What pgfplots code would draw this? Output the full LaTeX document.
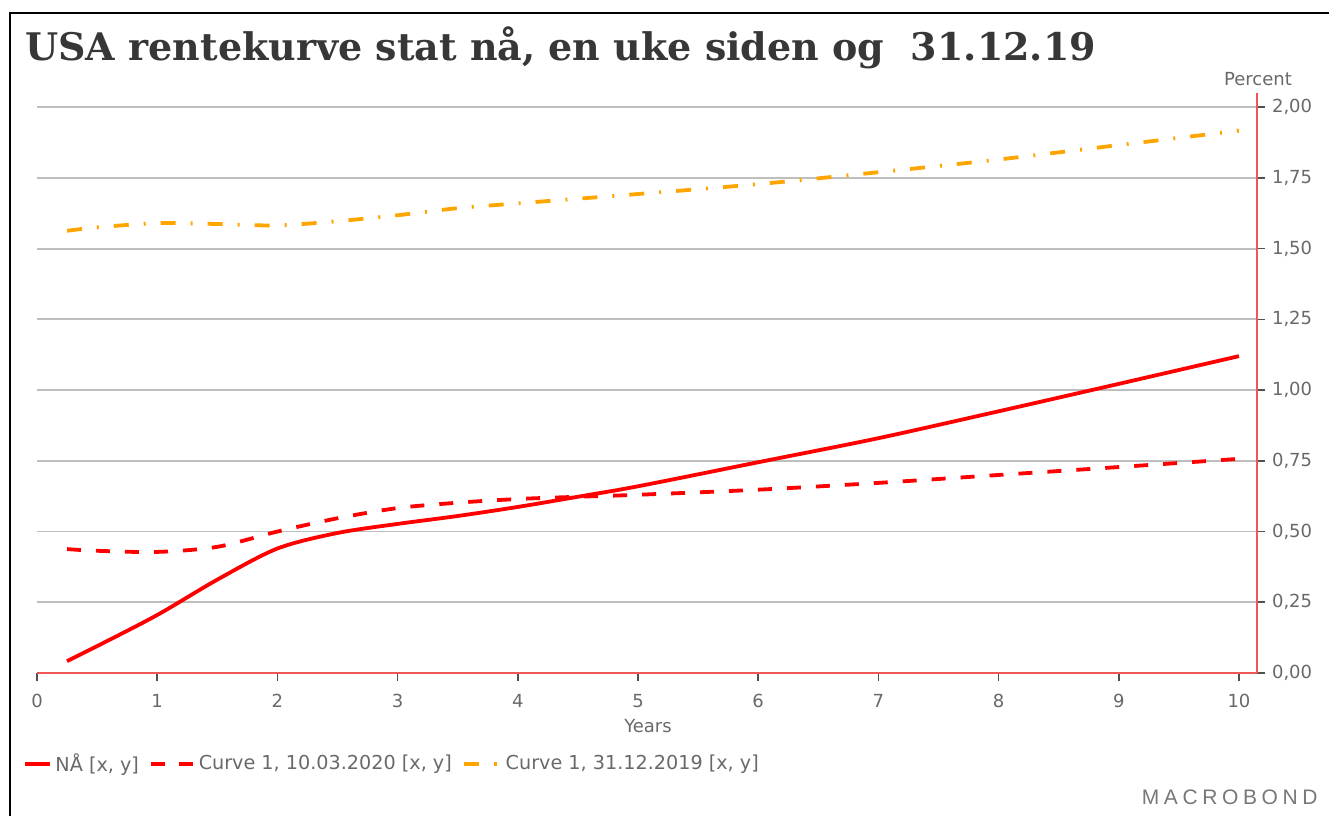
\documentclass[border=0pt]{standalone}
\usepackage{fontspec}
\usepackage{pgfplots}
\pgfplotsset{compat=1.18}
\setmainfont{DejaVu Sans}
\newfontfamily\titlefont{DejaVu Serif}
\newfontfamily\mbfont[LetterSpace=22]{Liberation Sans}
\definecolor{axred}{RGB}{238,85,85}
\definecolor{txtgray}{RGB}{105,105,105}
\definecolor{gridgray}{RGB}{190,190,190}
\definecolor{ticgray}{RGB}{80,80,80}
\definecolor{ttl}{RGB}{55,55,55}
\definecolor{orng}{RGB}{255,165,0}
\begin{document}
\begin{tikzpicture}
\useasboundingbox (0,0) rectangle (664.5pt,-408pt);
\fill[white] (0,0) rectangle (664.5pt,-408pt);
\draw[line width=1.2pt, black] (664.5pt,-6.5pt) -- (5pt,-6.5pt) -- (5pt,-408pt);
\node[anchor=base west, inner sep=0pt, text=ttl, font=\titlefont\bfseries\fontsize{19}{22}\selectfont] at (12.5pt,-30pt) {USA rentekurve stat nå, en uke siden og\ \ 31.12.19};
\node[text=txtgray, font=\fontsize{9}{10}\selectfont, inner sep=0pt] at (629pt,-39.5pt) {Percent};
\node[text=txtgray, font=\fontsize{9}{10}\selectfont, inner sep=0pt] at (324pt,-363pt) {Years};
\node[text=txtgray!90, font=\mbfont\fontsize{10.5}{12}\selectfont, inner sep=0pt, anchor=east] at (659pt,-398.5pt) {MACROBOND};
\begin{axis}[
  at={(18.5pt,-336.5pt)}, anchor=south west,
  scale only axis, width=610pt, height=290pt,
  xmin=0, xmax=10.15, ymin=0, ymax=2.05,
  axis x line*=bottom, axis y line*=right,
  axis line style={axred, line width=0.8pt, -},
  xtick={0,1,2,3,4,5,6,7,8,9,10},
  ytick={0,0.25,0.5,0.75,1,1.25,1.5,1.75,2},
  ymajorgrids, grid style={gridgray, line width=0.9pt},
  tick align=outside,
  major tick length=4pt,
  tick style={ticgray, line width=0.8pt},
  ticklabel style={text=txtgray, font=\fontsize{9}{10}\selectfont},
  /pgf/number format/assume math mode=true,
  yticklabel style={/pgf/number format/.cd, use comma, fixed, fixed zerofill, precision=2},
  xticklabel style={yshift=-3pt},
  legend style={at={(-0.017,-0.157)}, anchor=west, draw=none, fill=none, legend columns=3,
    font=\fontsize{9.6}{11}\selectfont, text=txtgray,
    /tikz/every even column/.append style={column sep=3pt}},
  legend cell align=left,
]
\addplot[red, line width=1.9pt, smooth, tension=0.5,
  legend image code/.code={\draw[red, line width=1.9pt] (0pt,0pt) -- (12.5pt,0pt);}]
 coordinates {(0.25,0.042)(0.5,0.095)(1,0.205)(1.5,0.33)(2,0.44)(2.5,0.495)(3,0.527)(3.5,0.555)(4,0.587)(4.5,0.623)(5,0.66)(6,0.745)(7,0.83)(8,0.925)(9,1.022)(10,1.12)};
\addlegendentry{NÅ [x, y]}
\addplot[red, line width=1.9pt, smooth, tension=0.5, dash pattern=on 7pt off 7.5pt,
  legend image code/.code={\draw[red, line width=1.9pt, dash pattern=on 7pt off 7pt] (0pt,0pt) -- (21pt,0pt);}]
 coordinates {(0.25,0.438)(0.5,0.432)(1,0.428)(1.5,0.446)(2,0.50)(2.5,0.547)(3,0.583)(3.5,0.602)(4,0.615)(4.5,0.623)(5,0.63)(6,0.648)(7,0.672)(8,0.70)(9,0.728)(10,0.757)};
\addlegendentry{Curve 1, 10.03.2020 [x, y]}
\addplot[orng, line width=1.9pt, smooth, tension=0.5, dash pattern=on 7.5pt off 7.5pt on 1pt off 7.5pt,
  legend image code/.code={\draw[orng, line width=1.9pt, dash pattern=on 7.5pt off 7.5pt on 1.5pt off 7.5pt] (0pt,0pt) -- (18pt,0pt);}]
 coordinates {(0.25,1.563)(0.5,1.575)(1,1.59)(1.5,1.587)(2,1.582)(2.5,1.597)(3,1.618)(3.5,1.643)(4,1.66)(5,1.693)(6,1.728)(7,1.77)(8,1.815)(9,1.866)(10,1.917)};
\addlegendentry{Curve 1, 31.12.2019 [x, y]}
\end{axis}
\end{tikzpicture}
\end{document}
